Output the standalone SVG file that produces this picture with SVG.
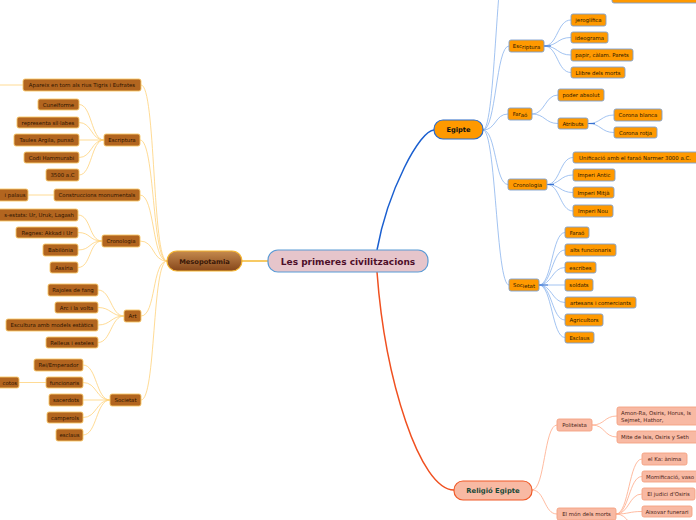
<svg xmlns="http://www.w3.org/2000/svg" width="696" height="520" viewBox="0 0 696 520">
<style>
text{font-family:"DejaVu Sans","Verdana",sans-serif;}
.t{font-size:5.4px;text-anchor:middle;}
.tl{font-size:5.4px;text-anchor:start;}
.te{font-size:5.4px;text-anchor:end;}
.m rect{fill:#b2651f;stroke:#f8c86a;stroke-width:0.9;}
.m text{fill:#2e1400;}
.e rect{fill:#ff9900;stroke:#7d9fcf;stroke-width:0.9;}
.e text{fill:#2a1800;}
.r rect{fill:#f8b9a3;stroke:#f4a282;stroke-width:0.9;}
.r text{fill:#4a2418;}
.cm path{fill:none;stroke:#ffd27a;stroke-width:0.8;}
.ce path{fill:none;stroke:#8ab4ee;stroke-width:0.8;}
.cr path{fill:none;stroke:#ffaa88;stroke-width:0.8;}
.big{font-weight:bold;text-anchor:middle;}
</style>
<defs>
<linearGradient id="gMes" x1="0" y1="0" x2="0" y2="1">
<stop offset="0" stop-color="#c58a4e"/>
<stop offset="1" stop-color="#86461a"/>
</linearGradient>
</defs>
<rect width="696" height="520" fill="#ffffff"/>

<g id="connectors">
<path d="M242,261 L268,261" fill="none" stroke="#f5b830" stroke-width="1.5"/>
<path d="M377,250 C388,190 420,130 434,130" fill="none" stroke="#1a5fd0" stroke-width="1.5"/>
<path d="M377,272 C385,380 420,490 454,490" fill="none" stroke="#f05020" stroke-width="1.5"/>
<g class="cm">
<path d="M167,261 C152,261 156,85 141,85"/>
<path d="M167,261 C152,261 155,140 140,140"/>
<path d="M167,261 C152,261 155,195 140,195"/>
<path d="M167,261 C152,261 155,241 140,241"/>
<path d="M167,261 C152,261 156,316 141,316"/>
<path d="M167,261 C152,261 156,400 141,400"/>
<path d="M23,85 L0,85"/>
<path d="M104,140 C91,140 92,104.5 79,104.5"/>
<path d="M104,140 C91,140 92,122.5 79,122.5"/>
<path d="M104,140 L79,140"/>
<path d="M104,140 C91,140 92,157.5 79,157.5"/>
<path d="M104,140 C91,140 92,175 79,175"/>
<path d="M54,195 L28,195"/>
<path d="M102,241 C89,241 91,215 78,215"/>
<path d="M102,241 C89,241 91,232.5 78,232.5"/>
<path d="M102,241 C89,241 91,250 78,250"/>
<path d="M102,241 C89,241 91,267.5 78,267.5"/>
<path d="M124,316 C111,316 111,290 98,290"/>
<path d="M124,316 C111,316 111,307.5 98,307.5"/>
<path d="M124,316 C111,316 111,325 98,325"/>
<path d="M124,316 C111,316 111,342.5 98,342.5"/>
<path d="M110,400 C96,400 97,365 83,365"/>
<path d="M110,400 C96,400 97,382.5 83,382.5"/>
<path d="M110,400 L83,400"/>
<path d="M110,400 C96,400 97,417.5 83,417.5"/>
<path d="M110,400 C96,400 97,435 83,435"/>
<path d="M46,382.5 L19,382.5"/>
</g>
<g class="ce">
<path d="M483,130 C496,130 496,-60 509,-60"/>
<path d="M483,130 C496,130 496,46 509,46"/>
<path d="M483,130 C496,130 495,114 508,114"/>
<path d="M483,130 C496,130 495,184.5 508,184.5"/>
<path d="M483,130 C496,130 496,285 509,285"/>
<path d="M544,46 C558,46 557,20 571,20"/>
<path d="M544,46 C558,46 557,37.5 571,37.5"/>
<path d="M544,46 C558,46 557,55 571,55"/>
<path d="M544,46 C558,46 557,72.5 571,72.5"/>
<path d="M532,114 C545,114 545,95 558,95"/>
<path d="M532,114 C545,114 545,123.5 558,123.5"/>
<path d="M588,123.5 C601,123.5 601,115 614,115"/>
<path d="M588,123.5 C601,123.5 601,132.5 614,132.5"/>
<path d="M547,184.5 C560,184.5 560,157.5 573,157.5"/>
<path d="M547,184.5 C560,184.5 560,175 573,175"/>
<path d="M547,184.5 C560,184.5 560,192.5 573,192.5"/>
<path d="M547,184.5 C560,184.5 560,211 573,211"/>
<path d="M539,285 C552,285 552,232.5 565,232.5"/>
<path d="M539,285 C552,285 552,250 565,250"/>
<path d="M539,285 C552,285 552,267.5 565,267.5"/>
<path d="M539,285 L565,285"/>
<path d="M539,285 C552,285 552,302.5 565,302.5"/>
<path d="M539,285 C552,285 552,320 565,320"/>
<path d="M539,285 C552,285 552,337.5 565,337.5"/>
</g>
<path d="M539,285 L548,285 M544,46 L551,46 M547,184.5 L554,184.5 M588,123.5 L595,123.5" fill="none" stroke="#2a66cc" stroke-width="0.9"/>
<g class="cr">
<path d="M532,490 C545,490 544,425 557,425"/>
<path d="M532,490 C545,490 544,514 557,514"/>
<path d="M592,425 C605,425 604,416 617,416"/>
<path d="M592,425 C605,425 604,437 617,437"/>
<path d="M616,514 C629,514 629,459 642,459"/>
<path d="M616,514 C629,514 629,476.5 642,476.5"/>
<path d="M616,514 C629,514 629,494 642,494"/>
<path d="M616,514 C629,514 629,511.5 642,511.5"/>
<path d="M616,514 C629,514 629,530 642,530"/>
</g>
</g>

<g id="central">
<rect x="268" y="250" width="160" height="22" rx="10" fill="#e6c5cb" stroke="#5b9bd5" stroke-width="1.2"/>
<text x="348" y="264.5" class="big" font-size="9" fill="#4d0f2a">Les primeres civilitzacions</text>
</g>

<g id="mesopotamia">
<rect x="167" y="251" width="75" height="20" rx="10" fill="url(#gMes)" stroke="#f5b530" stroke-width="1.2"/>
<text x="204.5" y="263.5" class="big" font-size="6.7" fill="#3a1808">Mesopotamia</text>
</g>

<g id="egipte">
<rect x="434" y="120" width="49" height="19" rx="9" fill="#ff9900" stroke="#2a6ac8" stroke-width="1.2"/>
<text x="458.5" y="132" class="big" font-size="6.7" fill="#111">Egipte</text>
</g>

<g id="religio">
<rect x="454" y="481" width="78" height="19" rx="9" fill="#f8b9a3" stroke="#f05a28" stroke-width="1.2"/>
<text x="493" y="493" class="big" font-size="6.8" fill="#1a4a3a">Religió Egipte</text>
</g>

<g id="m-apareix" class="m"><rect x="23" y="79" width="118" height="12" rx="2"/><text x="82" y="87" class="t">Apareix en torn als rius Tigris i Eufrates</text></g>
<g id="m-escriptura" class="m"><rect x="104" y="134" width="36" height="12" rx="2"/><text x="122" y="142" class="t">Escriptura</text></g>
<g id="m-cuneiforme" class="m"><rect x="38" y="99" width="41" height="11" rx="2"/><text x="58.5" y="106.5" class="t">Cuneïforme</text></g>
<g id="m-sillabes" class="m"><rect x="17" y="117" width="62" height="11" rx="2"/><text x="48" y="124.5" class="t">representa síl·labes</text></g>
<g id="m-taules" class="m"><rect x="14" y="134" width="65" height="12" rx="2"/><text x="46.5" y="142" class="t">Taules Argila, punxó</text></g>
<g id="m-codi" class="m"><rect x="24" y="152" width="55" height="11" rx="2"/><text x="51.5" y="159.5" class="t">Codi Hammurabi</text></g>
<g id="m-3500" class="m"><rect x="46" y="169" width="33" height="12" rx="2"/><text x="62.5" y="177" class="t">3500 a.C</text></g>
<g id="m-construccions" class="m"><rect x="54" y="189" width="86" height="12" rx="2"/><text x="97" y="197" class="t">Construccions monumentals</text></g>
<g id="m-palaus" class="m"><rect x="-30" y="189" width="58" height="12" rx="2"/><text x="25.5" y="197" class="te">i palaus</text></g>
<g id="m-cronologia" class="m"><rect x="102" y="235" width="38" height="12" rx="2"/><text x="121" y="243" class="t">Cronologia</text></g>
<g id="m-ciutats" class="m"><rect x="-20" y="209" width="98" height="12" rx="2"/><text x="74" y="217" class="te">s-estats: Ur, Uruk, Lagash</text></g>
<g id="m-regnes" class="m"><rect x="16" y="227" width="62" height="11" rx="2"/><text x="47" y="234.5" class="t">Regnes: Akkad i Ur</text></g>
<g id="m-babilonia" class="m"><rect x="43" y="244" width="35" height="12" rx="2"/><text x="60.5" y="252" class="t">Babilònia</text></g>
<g id="m-assiria" class="m"><rect x="50" y="262" width="28" height="11" rx="2"/><text x="64" y="269.5" class="t">Assíria</text></g>
<g id="m-art" class="m"><rect x="124" y="310" width="17" height="12" rx="2"/><text x="132.5" y="318" class="t">Art</text></g>
<g id="m-rajoles" class="m"><rect x="48" y="284" width="50" height="12" rx="2"/><text x="73" y="292" class="t">Rajoles de fang</text></g>
<g id="m-arc" class="m"><rect x="55" y="302" width="43" height="11" rx="2"/><text x="76.5" y="309.5" class="t">Arc i la volta</text></g>
<g id="m-escultura" class="m"><rect x="6" y="319" width="92" height="12" rx="2"/><text x="52" y="327" class="t">Escultura amb models estàtics</text></g>
<g id="m-relleus" class="m"><rect x="46" y="337" width="52" height="11" rx="2"/><text x="72" y="344.5" class="t">Relleus i esteles</text></g>
<g id="m-societat" class="m"><rect x="110" y="394" width="31" height="12" rx="2"/><text x="125.5" y="402" class="t">Societat</text></g>
<g id="m-rei" class="m"><rect x="34" y="359" width="49" height="12" rx="2"/><text x="58.5" y="367" class="t">Rei/Emperador</text></g>
<g id="m-funcionaris" class="m"><rect x="46" y="377" width="37" height="11" rx="2"/><text x="64.5" y="384.5" class="t">funcionaris</text></g>
<g id="m-cotos" class="m"><rect x="-30" y="377" width="49" height="11" rx="2"/><text x="17" y="384.5" class="te">cotos</text></g>
<g id="m-sacerdots" class="m"><rect x="49" y="394" width="34" height="12" rx="2"/><text x="66" y="402" class="t">sacerdots</text></g>
<g id="m-camperols" class="m"><rect x="47" y="412" width="36" height="11" rx="2"/><text x="65" y="419.5" class="t">camperols</text></g>
<g id="m-esclaus" class="m"><rect x="56" y="429" width="27" height="12" rx="2"/><text x="69.5" y="437" class="t">esclaus</text></g>

<g id="e-top" class="e"><rect x="612" y="-10" width="90" height="13" rx="2"/></g>
<g id="e-escriptura" class="e"><rect x="509" y="40" width="35" height="12" rx="2"/><text x="526.5" y="47.5" class="t">Esc<tspan dy="1">riptura</tspan></text></g>
<g id="e-jeroglifica" class="e"><rect x="571" y="14" width="35" height="12" rx="2"/><text x="588.5" y="22" class="t">jeroglífica</text></g>
<g id="e-ideograma" class="e"><rect x="571" y="32" width="37" height="11" rx="2"/><text x="589.5" y="39.5" class="t">ideograma</text></g>
<g id="e-papir" class="e"><rect x="571" y="49" width="62" height="12" rx="2"/><text x="602" y="57" class="t">papir, càlam. Parets</text></g>
<g id="e-llibre" class="e"><rect x="571" y="67" width="54" height="11" rx="2"/><text x="598" y="74.5" class="t">Llibre dels morts</text></g>
<g id="e-farao" class="e"><rect x="508" y="108" width="24" height="12" rx="2"/><text x="520" y="115.5" class="t">Far<tspan dy="1">aó</tspan></text></g>
<g id="e-poder" class="e"><rect x="558" y="89" width="46" height="12" rx="2"/><text x="581" y="97" class="t">poder absolut</text></g>
<g id="e-atributs" class="e"><rect x="558" y="118" width="30" height="11" rx="2"/><text x="573" y="125.5" class="t">Atributs</text></g>
<g id="e-blanca" class="e"><rect x="614" y="109" width="48" height="12" rx="2"/><text x="638" y="117" class="t">Corona blanca</text></g>
<g id="e-rotja" class="e"><rect x="614" y="127" width="43" height="11" rx="2"/><text x="635.5" y="134.5" class="t">Corona rotja</text></g>
<g id="e-cronologia" class="e"><rect x="508" y="179" width="39" height="11" rx="2"/><text x="527.5" y="186.5" class="t">Cronologia</text></g>
<g id="e-unificacio" class="e"><rect x="573" y="152" width="126" height="11" rx="2"/><text x="635" y="159.5" class="t">Unificació amb el faraó Narmer 3000 a.C.</text></g>
<g id="e-antic" class="e"><rect x="573" y="169" width="42" height="12" rx="2"/><text x="594" y="177" class="t">Imperi Antic</text></g>
<g id="e-mitja" class="e"><rect x="573" y="187" width="41" height="11" rx="2"/><text x="593.5" y="194.5" class="t">Imperi Mitjà</text></g>
<g id="e-nou" class="e"><rect x="573" y="205" width="40" height="12" rx="2"/><text x="593" y="213" class="t">Imperi Nou</text></g>
<g id="e-societat" class="e"><rect x="509" y="279" width="30" height="12" rx="2"/><text x="524" y="286.5" class="t">Soc<tspan dy="1">ietat</tspan></text></g>
<g id="e-sfarao" class="e"><rect x="565" y="227" width="24" height="11" rx="2"/><text x="577" y="234.5" class="t">Faraó</text></g>
<g id="e-alts" class="e"><rect x="565" y="244" width="51" height="12" rx="2"/><text x="590.5" y="252" class="t">alts funcionaris</text></g>
<g id="e-escribes" class="e"><rect x="565" y="262" width="31" height="11" rx="2"/><text x="580.5" y="269.5" class="t">escribes</text></g>
<g id="e-soldats" class="e"><rect x="565" y="279" width="28" height="12" rx="2"/><text x="579" y="287" class="t">soldats</text></g>
<g id="e-artesans" class="e"><rect x="565" y="297" width="71" height="11" rx="2"/><text x="600.5" y="304.5" class="t">artesans i comerciants</text></g>
<g id="e-agricultors" class="e"><rect x="565" y="314" width="38" height="12" rx="2"/><text x="584" y="322" class="t">Agricultors</text></g>
<g id="e-esclaus" class="e"><rect x="565" y="332" width="29" height="11" rx="2"/><text x="579.5" y="339.5" class="t">Esclaus</text></g>

<g id="r-politeista" class="r"><rect x="557" y="419" width="35" height="12" rx="2"/><text x="574.5" y="427" class="t">Politeista</text></g>
<g id="r-amon" class="r"><rect x="617" y="407" width="85" height="18" rx="2"/><text x="621" y="414.5" class="tl">Amon-Ra, Osiris, Horus, Is</text><text x="621" y="421.5" class="tl">Sejmet, Hathor,</text></g>
<g id="r-mite" class="r"><rect x="617" y="431" width="82" height="12" rx="2"/><text x="621" y="439" class="tl">Mite de Isis, Osiris y Seth</text></g>
<g id="r-mon" class="r"><rect x="557" y="508" width="59" height="12" rx="2"/><text x="586.5" y="516" class="t">El món dels morts</text></g>
<g id="r-ka" class="r"><rect x="642" y="453" width="45" height="12" rx="2"/><text x="664.5" y="461" class="t">el Ka: ànima</text></g>
<g id="r-momificacio" class="r"><rect x="642" y="471" width="60" height="11" rx="2"/><text x="646" y="478.5" class="tl">Momificació, vaso</text></g>
<g id="r-judici" class="r"><rect x="642" y="488" width="53" height="12" rx="2"/><text x="668.5" y="496" class="t">El judici d'Osiris</text></g>
<g id="r-aixovar" class="r"><rect x="642" y="506" width="50" height="11" rx="2"/><text x="667" y="513.5" class="t">Aixovar funerari</text></g>
</svg>
